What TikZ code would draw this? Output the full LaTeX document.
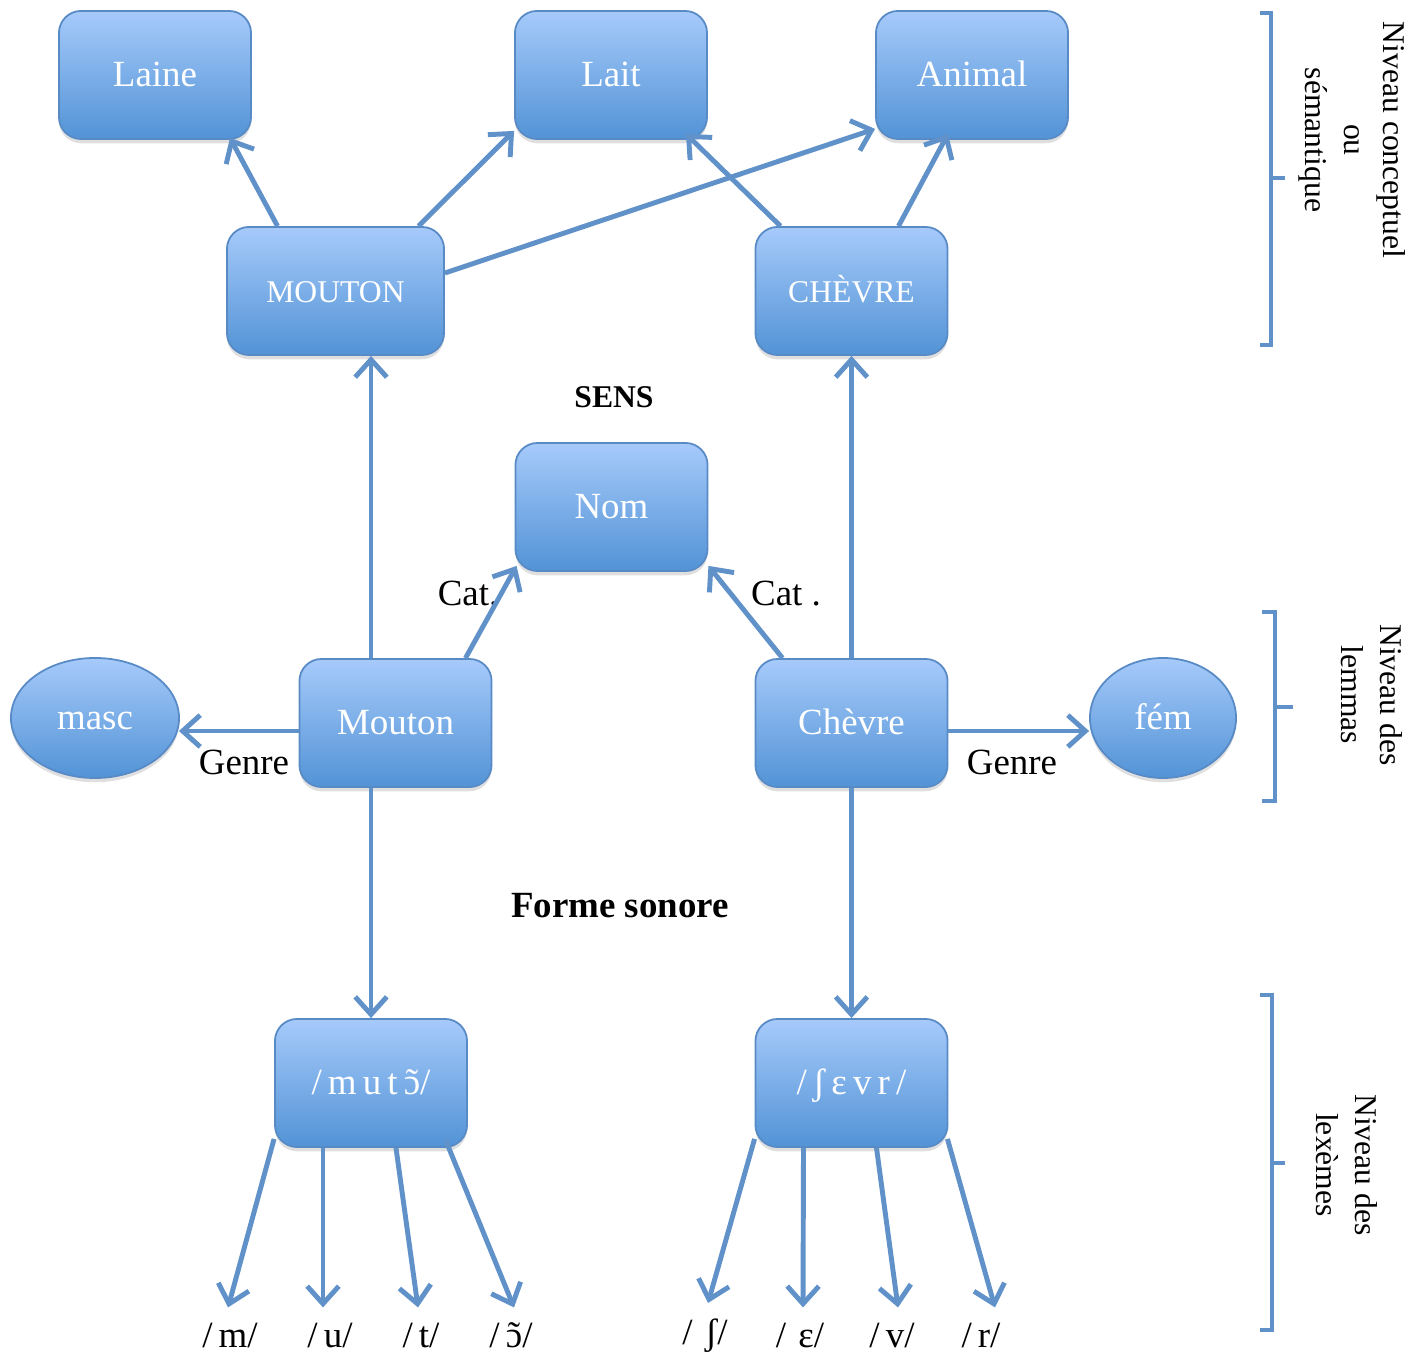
\documentclass[tikz,border=0pt]{standalone}
\usepackage{fontspec}
\setmainfont{Liberation Serif}
\usetikzlibrary{arrows.meta}
\usetikzlibrary{shadows}
\usetikzlibrary{shapes.geometric}
\usetikzlibrary{calc}
\definecolor{boxtop}{RGB}{166,202,250}
\definecolor{boxbot}{RGB}{82,147,214}
\definecolor{boxline}{RGB}{88,138,198}
\definecolor{arrowblue}{RGB}{96,146,201}
\newcommand{\nasO}{{\ooalign{ɔ\cr\hidewidth˜\hidewidth\cr}}}

\begin{document}
\begin{tikzpicture}[x=0.01cm,y=-0.01cm,
  box/.style={rectangle,rounded corners=0.22cm,draw=boxline,line width=0.5pt,
    top color=boxtop,bottom color=boxbot,text=white,
    minimum width=1.92cm,minimum height=1.28cm,text height=1.45ex,text depth=0pt,
    drop shadow={opacity=0.25,shadow xshift=0pt,shadow yshift=-1.2pt}},
  blob/.style={ellipse,draw=boxline,line width=0.5pt,
    top color=boxtop,bottom color=boxbot,text=white,inner sep=0pt,
    minimum height=1.2cm,font=\fontsize{10.5}{12}\selectfont,
    text height=1.45ex,text depth=0pt,
    drop shadow={opacity=0.25,shadow xshift=0pt,shadow yshift=-1.2pt}},
  big/.style={font=\fontsize{10.5}{12}\selectfont},
  caps/.style={font=\fontsize{9}{11}\selectfont},
  arr/.style={draw=arrowblue,line width=1.4pt,-{Straight Barb[length=5pt,width=9pt]}},
  brack/.style={draw=arrowblue,line width=1.2pt},
  side/.style={rotate=-90,align=center,font=\fontsize{9}{11}\selectfont},
  phon/.style={big,inner sep=1pt}]
  \useasboundingbox (0,0) rectangle (1421,1355);

  % niveau conceptuel
  \node[box,big] (laine) at (155,75) {Laine};
  \node[box,big] (lait) at (611,75) {Lait};
  \node[box,big] (animal) at (972,75) {Animal};
  \node[box,caps,minimum width=2.17cm] (MOUTON) at (335.5,291) {MOUTON};
  \node[box,caps] (CHEVRE) at (851.5,291) {CHÈVRE};

  % niveau des lemmas
  \node[box,big] (nom) at (611.5,507) {Nom};
  \node[box,big] (mouton) at (395.5,723) {Mouton};
  \node[box,big] (chevre) at (851.5,723) {Chèvre};
  \node[blob,minimum width=1.68cm] (masc) at (95,718) {masc};
  \node[blob,minimum width=1.46cm] (fem) at (1163,718) {fém};

  % niveau des lexemes
  \node[box,big] (mutO) at (371,1083) {/\,m\,u\,t\,\nasO/};
  \node[box,big] (Sevr) at (851.5,1083) {/\,ʃ\,ɛ\,v\,r\,/};
  \foreach \name/\xx/\txt in {m/230/m,u/330/u,t/421/t,O/511/\nasO,S/705/\,ʃ,E/800/\,ɛ,v/892/v,r/981/r}
    \node[phon] (ph\name) at (\xx,1336) {/\,\txt/};

  % textes
  \node[font=\bfseries\fontsize{9}{11}\selectfont] (sens) at (614,397) {SENS};
  \node[font=\bfseries\fontsize{10.5}{12}\selectfont] (forme) at (620,906) {Forme sonore};
  \node[big] (cat1) at (468,594) {Cat.};
  \node[big] (cat2) at (786,594) {Cat .};
  \node[big] (genre1) at (244,762) {Genre};
  \node[big] (genre2) at (1012,762) {Genre};

  % fleches du haut
  \draw[arr] ($(MOUTON.north)+(-58,0)$) -- ($(laine.south)+(75,-2)$);
  \draw[arr] ($(MOUTON.north)+(83,0)$) -- ($(lait.south west)+(0,-9)$);
  \draw[arr] ($(MOUTON.east)+(0,-18)$) -- ($(animal.south west)+(0,-11)$);
  \draw[arr] ($(CHEVRE.north)+(-71,0)$) -- ($(lait.south east)+(-22,-6)$);
  \draw[arr] ($(CHEVRE.north)+(47,0)$) -- ($(animal.south)+(-24,-6)$);

  % fleches du milieu
  \draw[arr] ($(mouton.north)+(-24.5,0)$) -- ($(MOUTON.south)+(35.5,0)$);
  \draw[arr] ($(mouton.north)+(70,0)$) -- ($(nom.south west)+(2,-6)$);
  \draw[arr] ($(chevre.north)+(-69,0)$) -- ($(nom.south east)+(0,-6)$);
  \draw[arr] (chevre.north) -- (CHEVRE.south);
  \draw[arr] ($(mouton.west)+(0,8)$) -- ($(masc.east)+(-1,13)$);
  \draw[arr] ($(chevre.east)+(0,8)$) -- ($(fem.west)+(0,13)$);
  \draw[arr] ($(mouton.south)+(-24.5,0)$) -- (mutO.north);
  \draw[arr] (chevre.south) -- (Sevr.north);

  % fleches du bas
  \draw[arr] ($(mutO.south west)+(0,-9)$) -- ($(phm.north)+(-2,-12)$);
  \draw[arr] ($(mutO.south)+(-48,0)$) -- ($(phu.north)+(-7,-12)$);
  \draw[arr] ($(mutO.south)+(25,0)$) -- ($(pht.north)+(-3,-12)$);
  \draw[arr] ($(mutO.south east)+(-22,-7)$) -- ($(phO.north)+(3,-12)$);
  \draw[arr] ($(Sevr.south west)+(0,-9)$) -- ($(phS.north)+(3,-12)$);
  \draw[arr] ($(Sevr.south)+(-48,0)$) -- ($(phE.north)+(3,-12)$);
  \draw[arr] ($(Sevr.south)+(25,0)$) -- ($(phv.north)+(6,-12)$);
  \draw[arr] ($(Sevr.south east)+(-1,-9)$) -- ($(phr.north)+(14,-12)$);

  % accolades
  \draw[brack] (1260,13) -- (1271,13) -- (1271,345) -- (1260,345);
  \draw[brack] (1271,178) -- (1285,178);
  \draw[brack] (1262,612) -- (1275,612) -- (1275,801) -- (1262,801);
  \draw[brack] (1275,707) -- (1293,707);
  \draw[brack] (1260,995) -- (1272,995) -- (1272,1330) -- (1260,1330);
  \draw[brack] (1272,1163) -- (1285,1163);
  \node[side] (niv1) at (1352,140) {Niveau conceptuel\\ou\\sémantique};
  \node[side] (niv2) at (1372,695) {Niveau des\\lemmas};
  \node[side] (niv3) at (1347,1165) {Niveau des\\lexèmes};
\end{tikzpicture}
\end{document}
